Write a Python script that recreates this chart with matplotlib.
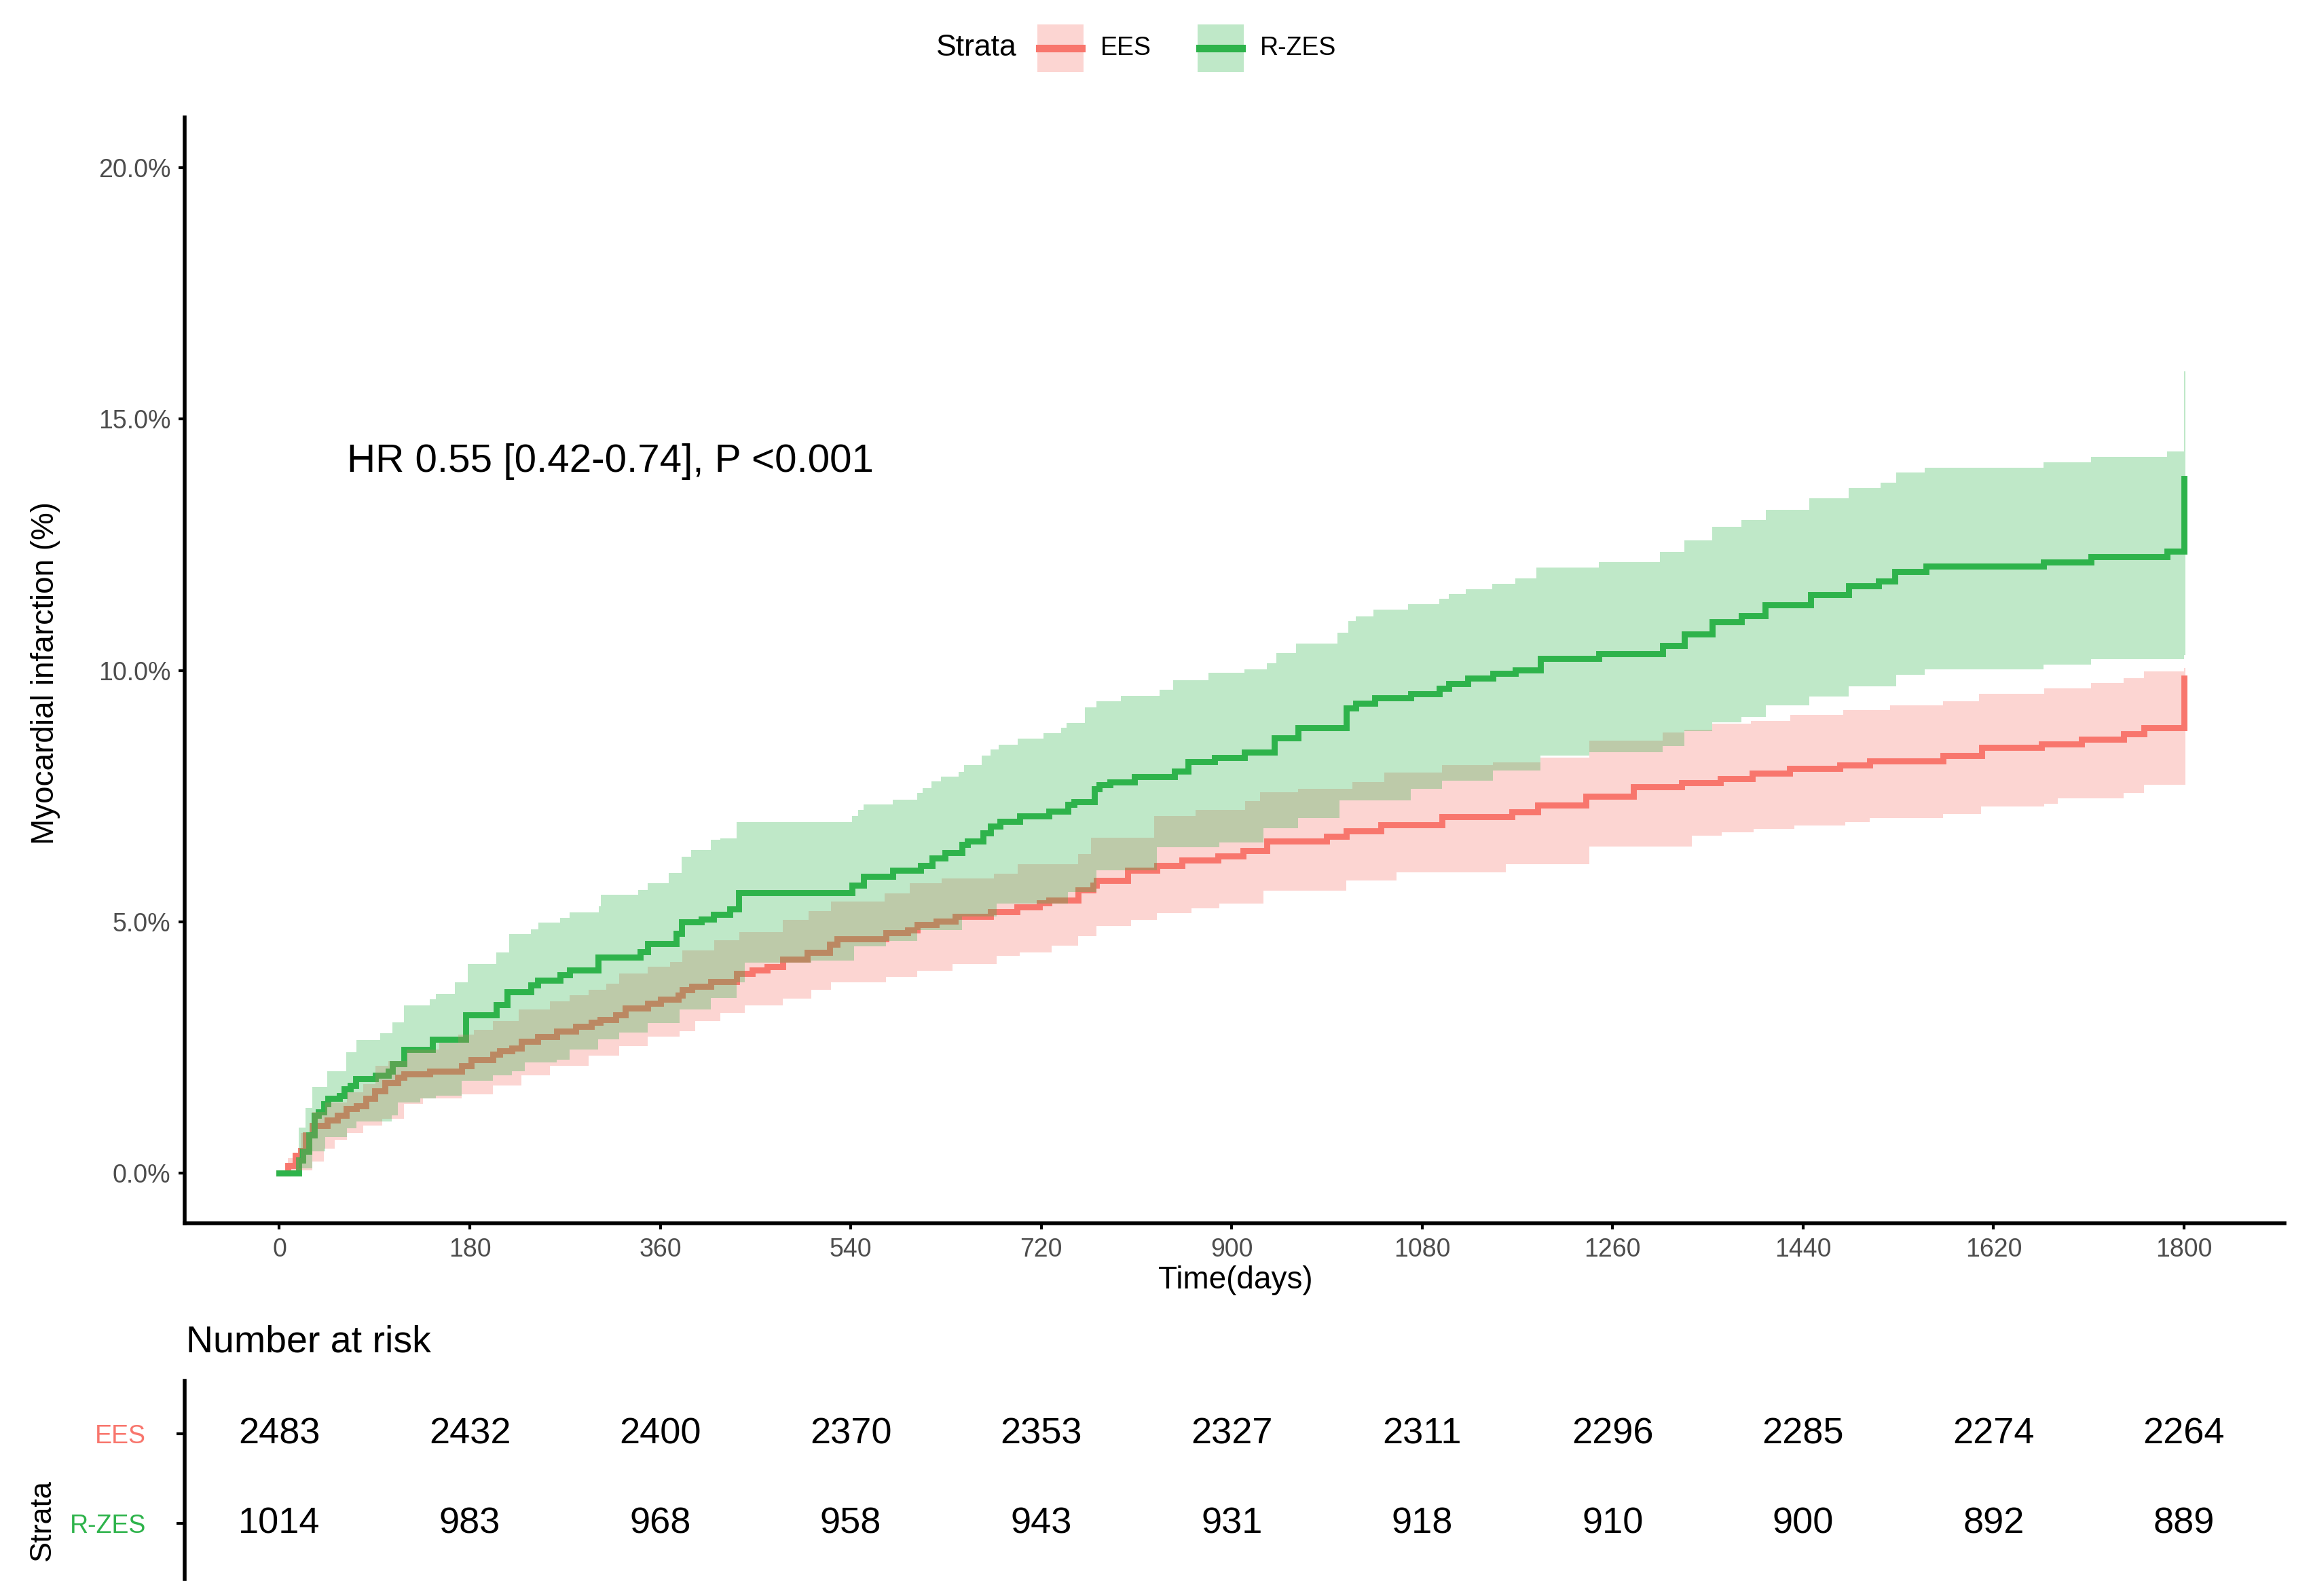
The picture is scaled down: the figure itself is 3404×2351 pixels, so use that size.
import numpy as np
import matplotlib
matplotlib.use('Agg')
import matplotlib.pyplot as plt
from matplotlib.patches import Rectangle
from matplotlib.lines import Line2D

plt.rcParams['font.family'] = ['Liberation Sans', 'DejaVu Sans']

# cumulative incidence (%), step functions (time in days)
ees_t = [0, 8, 15, 20, 25, 31, 45, 55, 63, 73, 82, 90, 100, 112, 118, 142, 172, 181, 202, 208,
         220, 229, 244, 262, 280, 295, 303, 318, 327, 348, 360, 377, 381, 390, 408, 432, 447, 461, 476, 499,
         520, 527, 573, 594, 603, 621, 639, 672, 697, 718, 727, 755, 769, 772, 802, 829, 853, 887, 911, 933,
         990, 1008, 1041, 1099, 1165, 1189, 1235, 1280, 1325, 1362, 1392, 1427, 1475, 1503, 1572, 1609, 1665, 1703, 1743, 1762,
         1800]
ees_v = [0, 0.15, 0.35, 0.45, 0.75, 0.95, 1.05, 1.15, 1.28, 1.34, 1.48, 1.64, 1.80, 1.90, 1.97, 2.03, 2.13, 2.26, 2.36, 2.43,
         2.49, 2.62, 2.72, 2.82, 2.92, 3.00, 3.05, 3.15, 3.28, 3.38, 3.45, 3.54, 3.64, 3.71, 3.81, 3.97, 4.04, 4.10, 4.26, 4.39,
         4.55, 4.66, 4.78, 4.84, 4.94, 5.01, 5.11, 5.20, 5.30, 5.37, 5.43, 5.63, 5.73, 5.82, 6.02, 6.12, 6.22, 6.31, 6.41, 6.60,
         6.70, 6.80, 6.93, 7.09, 7.19, 7.32, 7.49, 7.68, 7.76, 7.85, 7.96, 8.05, 8.12, 8.20, 8.31, 8.47, 8.53, 8.63, 8.74, 8.86,
         9.85]

ees_hi_t = [0, 8, 20, 31, 43, 64, 79, 91, 103, 120, 151, 169, 184, 202, 226, 256, 274, 292, 309, 321,
            348, 369, 381, 411, 435, 476, 500, 521, 572, 596, 626, 675, 698, 755, 767, 827, 866, 913, 927, 963,
            1014, 1044, 1099, 1147, 1192, 1238, 1307, 1328, 1354, 1391, 1428, 1478, 1522, 1572, 1606, 1668, 1712, 1743, 1762, 1800]
ees_hi_v = [0, 0.3, 0.8, 1.21, 1.41, 1.61, 1.77, 2.13, 2.23, 2.46, 2.59, 2.76, 2.85, 3.02, 3.25, 3.41, 3.54, 3.64, 3.77, 3.97,
            4.10, 4.20, 4.43, 4.63, 4.80, 5.04, 5.21, 5.40, 5.56, 5.76, 5.86, 5.96, 6.15, 6.35, 6.67, 7.10, 7.22, 7.40, 7.58, 7.65,
            7.78, 7.97, 8.11, 8.17, 8.27, 8.60, 8.76, 8.82, 8.94, 9.00, 9.11, 9.21, 9.31, 9.38, 9.54, 9.64, 9.75, 9.85, 9.98, 10.05]

ees_lo_t = [0, 8, 31, 42, 52, 64, 79, 97, 118, 136, 172, 202, 229, 256, 292, 321, 348, 378, 393, 417,
            440, 476, 503, 521, 573, 603, 636, 678, 700, 730, 755, 772, 805, 829, 862, 888, 930, 1008, 1056, 1159,
            1238, 1335, 1363, 1393, 1432, 1480, 1503, 1572, 1608, 1668, 1681, 1743, 1762, 1800]
ees_lo_v = [0, 0.05, 0.23, 0.49, 0.66, 0.79, 0.95, 1.08, 1.38, 1.48, 1.57, 1.74, 1.94, 2.13, 2.33, 2.53, 2.72, 2.82, 3.02, 3.18,
            3.34, 3.47, 3.64, 3.80, 3.90, 4.03, 4.16, 4.32, 4.39, 4.52, 4.71, 4.91, 5.04, 5.17, 5.27, 5.36, 5.62, 5.82, 5.98, 6.15,
            6.50, 6.71, 6.78, 6.85, 6.92, 6.98, 7.06, 7.15, 7.29, 7.35, 7.45, 7.56, 7.72, 7.72]

rzes_t = [0, 18, 22, 28, 33, 37, 42, 46, 57, 61, 67, 72, 91, 103, 107, 118, 145, 176, 205, 215,
          238, 244, 265, 274, 301, 341, 348, 375, 380, 399, 410, 426, 434, 541, 552, 580, 606, 617, 629, 645,
          650, 665, 672, 681, 700, 727, 745, 751, 770, 775, 785, 808, 846, 859, 884, 912, 940, 963, 1008, 1017,
          1035, 1069, 1096, 1105, 1123, 1147, 1168, 1192, 1247, 1307, 1328, 1354, 1382, 1404, 1447, 1483, 1511, 1527, 1556, 1667,
          1712, 1784, 1800]
rzes_v = [0, 0.25, 0.43, 0.75, 1.15, 1.21, 1.38, 1.48, 1.54, 1.67, 1.74, 1.87, 1.94, 2.03, 2.17, 2.46, 2.66, 3.15, 3.35, 3.61,
          3.74, 3.84, 3.94, 4.04, 4.30, 4.40, 4.56, 4.76, 4.99, 5.05, 5.15, 5.25, 5.58, 5.73, 5.90, 6.02, 6.12, 6.27, 6.38, 6.54,
          6.61, 6.77, 6.90, 7.00, 7.10, 7.20, 7.33, 7.39, 7.65, 7.72, 7.78, 7.88, 7.99, 8.18, 8.27, 8.37, 8.66, 8.86, 9.25, 9.35,
          9.45, 9.53, 9.64, 9.74, 9.84, 9.94, 10.01, 10.23, 10.33, 10.49, 10.72, 10.96, 11.09, 11.30, 11.50, 11.68, 11.78, 11.97, 12.07, 12.16,
          12.26, 12.37, 13.82]

rzes_hi_t = [0, 18, 25, 31, 45, 63, 73, 95, 107, 118, 142, 148, 166, 178, 205, 217, 238, 245, 265, 274,
             302, 304, 339, 348, 368, 380, 389, 408, 417, 432, 541, 547, 552, 580, 603, 608, 616, 625, 642, 647,
             664, 672, 680, 698, 722, 739, 744, 761, 772, 795, 832, 845, 878, 912, 933, 942, 961, 1000, 1010, 1017,
             1034, 1067, 1096, 1105, 1121, 1146, 1168, 1188, 1247, 1305, 1328, 1354, 1382, 1405, 1446, 1483, 1513, 1528, 1555, 1667,
             1712, 1784, 1800]
rzes_hi_v = [0, 0.9, 1.3, 1.72, 2.02, 2.41, 2.64, 2.78, 3.00, 3.34, 3.46, 3.57, 3.80, 4.16, 4.39, 4.75, 4.85, 4.98, 5.08, 5.18,
             5.31, 5.54, 5.63, 5.77, 5.97, 6.29, 6.43, 6.63, 6.66, 6.98, 7.10, 7.22, 7.33, 7.43, 7.56, 7.66, 7.79, 7.89, 7.98, 8.11,
             8.30, 8.43, 8.52, 8.64, 8.75, 8.86, 8.96, 9.26, 9.38, 9.49, 9.61, 9.81, 9.95, 10.02, 10.14, 10.34, 10.54, 10.75, 10.98, 11.08,
             11.21, 11.32, 11.42, 11.52, 11.62, 11.72, 11.83, 12.04, 12.16, 12.35, 12.58, 12.86, 12.99, 13.20, 13.42, 13.62, 13.74, 13.94, 14.03, 14.14,
             14.25, 14.36, 15.95]

rzes_lo_t = [0, 18, 31, 43, 64, 73, 106, 112, 133, 148, 172, 202, 220, 232, 262, 274, 301, 321, 348, 378,
             408, 432, 440, 503, 543, 573, 603, 645, 678, 745, 772, 829, 888, 930, 963, 1002, 1069, 1099, 1147, 1192,
             1238, 1307, 1328, 1354, 1382, 1405, 1446, 1483, 1528, 1555, 1667, 1712, 1800]
rzes_lo_v = [0, 0.1, 0.43, 0.72, 0.89, 1.02, 1.15, 1.41, 1.48, 1.54, 1.84, 1.94, 2.03, 2.20, 2.26, 2.46, 2.66, 2.79, 2.99, 3.25,
             3.48, 3.80, 4.19, 4.22, 4.51, 4.62, 4.84, 5.10, 5.36, 5.59, 6.02, 6.48, 6.57, 6.86, 7.06, 7.42, 7.65, 7.81, 8.01, 8.30,
             8.37, 8.50, 8.79, 8.97, 9.07, 9.31, 9.48, 9.68, 9.91, 10.02, 10.12, 10.22, 10.30]

# number at risk
risk_times = [0, 180, 360, 540, 720, 900, 1080, 1260, 1440, 1620, 1800]
ees_risk = [2483, 2432, 2400, 2370, 2353, 2327, 2311, 2296, 2285, 2274, 2264]
rzes_risk = [1014, 983, 968, 958, 943, 931, 918, 910, 900, 892, 889]

strata = ['EES', 'R-ZES']
colors = ['#F8766D', '#2EB34B']
y_ticks = [0, 5, 10, 15, 20]
y_ticklabels = ['0.0%', '5.0%', '10.0%', '15.0%', '20.0%']

hr_text = 'HR 0.55 [0.42-0.74], P <0.001'


def step_at(t, v, grid):
    t = np.asarray(t)
    v = np.asarray(v)
    return v[np.searchsorted(t, grid, side='right') - 1]


W, H = 3404, 2351
fig = plt.figure(figsize=(W / 200, H / 200), dpi=200)

xlim = (-89.5, 1895)
ax = fig.add_axes([272 / W, 1 - 1802 / H, 3093 / W, (1802 - 173) / H])

lines = [(ees_t, ees_v), (rzes_t, rzes_v)]
bands = [(ees_lo_t, ees_lo_v, ees_hi_t, ees_hi_v), (rzes_lo_t, rzes_lo_v, rzes_hi_t, rzes_hi_v)]

for (t, v), col in zip(lines, colors):
    ax.step(t, v, where='post', color=col, lw=3.2, zorder=2, solid_joinstyle='miter')

for (lt, lv, ht, hv), col in zip(bands, colors):
    grid = np.union1d(lt, ht)
    grid = np.append(grid, grid[-1] + 1.5)
    ax.fill_between(grid, step_at(lt, lv, grid), step_at(ht, hv, grid), step='post',
                    color=col, alpha=0.3, lw=0, zorder=3)

ax.text(64, 13.95, hr_text, fontsize=21, ha='left', va='baseline', color='black')

ax.set_xlim(xlim)
ax.set_ylim(-1, 21)
ax.set_xticks(risk_times)
ax.set_yticks(y_ticks)
ax.set_yticklabels(y_ticklabels)
for s in ['top', 'right']:
    ax.spines[s].set_visible(False)
for s in ['left', 'bottom']:
    ax.spines[s].set_linewidth(2.0)
ax.tick_params(axis='both', length=3.4, width=1.5, colors='black', labelsize=13.5,
               labelcolor='#4D4D4D', pad=4)

fig.text(1820 / W, 1 - 1886 / H, 'Time(days)', fontsize=16.5, ha='center', va='center')
fig.text(67 / W, 1 - 992 / H, 'Myocardial infarction (%)', fontsize=16.5, rotation=90,
         ha='center', va='center')

# legend on top
ly = 1 - 71 / H
fig.text(1379 / W, ly, 'Strata', fontsize=16, ha='left', va='center')
key_x = [1528, 1764]
txt_x = [1621, 1856]
for kx, tx, lab, col in zip(key_x, txt_x, strata, colors):
    fig.patches.append(Rectangle((kx / W, 1 - 106 / H), 68 / W, 70 / H, transform=fig.transFigure,
                                 facecolor=col, alpha=0.3, edgecolor='none'))
    fig.lines.append(Line2D([(kx + 3) / W, (kx + 65) / W], [ly, ly], transform=fig.transFigure,
                            color=col, lw=4))
    fig.text(tx / W, ly, lab, fontsize=13.5, ha='left', va='center')

# risk table
tab = fig.add_axes([272 / W, 1 - 2326 / H, 3093 / W, 292 / H])
tab.set_xlim(xlim)
tab.set_ylim(0.379, 2.591)
for t, n in zip(risk_times, ees_risk):
    tab.text(t, 2, str(n), fontsize=19.5, ha='center', va='center')
for t, n in zip(risk_times, rzes_risk):
    tab.text(t, 1, str(n), fontsize=19.5, ha='center', va='center')
tab.set_xticks([])
tab.set_yticks([2, 1])
tab.set_yticklabels(strata)
for lab, col in zip(tab.get_yticklabels(), colors):
    lab.set_color(col)
for s in ['top', 'right', 'bottom']:
    tab.spines[s].set_visible(False)
tab.spines['left'].set_linewidth(2.0)
tab.tick_params(axis='y', length=4.5, width=1.5, labelsize=13.5, pad=16)

fig.text(274 / W, 1 - 1978 / H, 'Number at risk', fontsize=20, ha='left', va='center')
fig.text(62 / W, 1 - 2239 / H, 'Strata', fontsize=16.2, rotation=90, ha='center', va='center')

fig.savefig('out.png', dpi=200)
